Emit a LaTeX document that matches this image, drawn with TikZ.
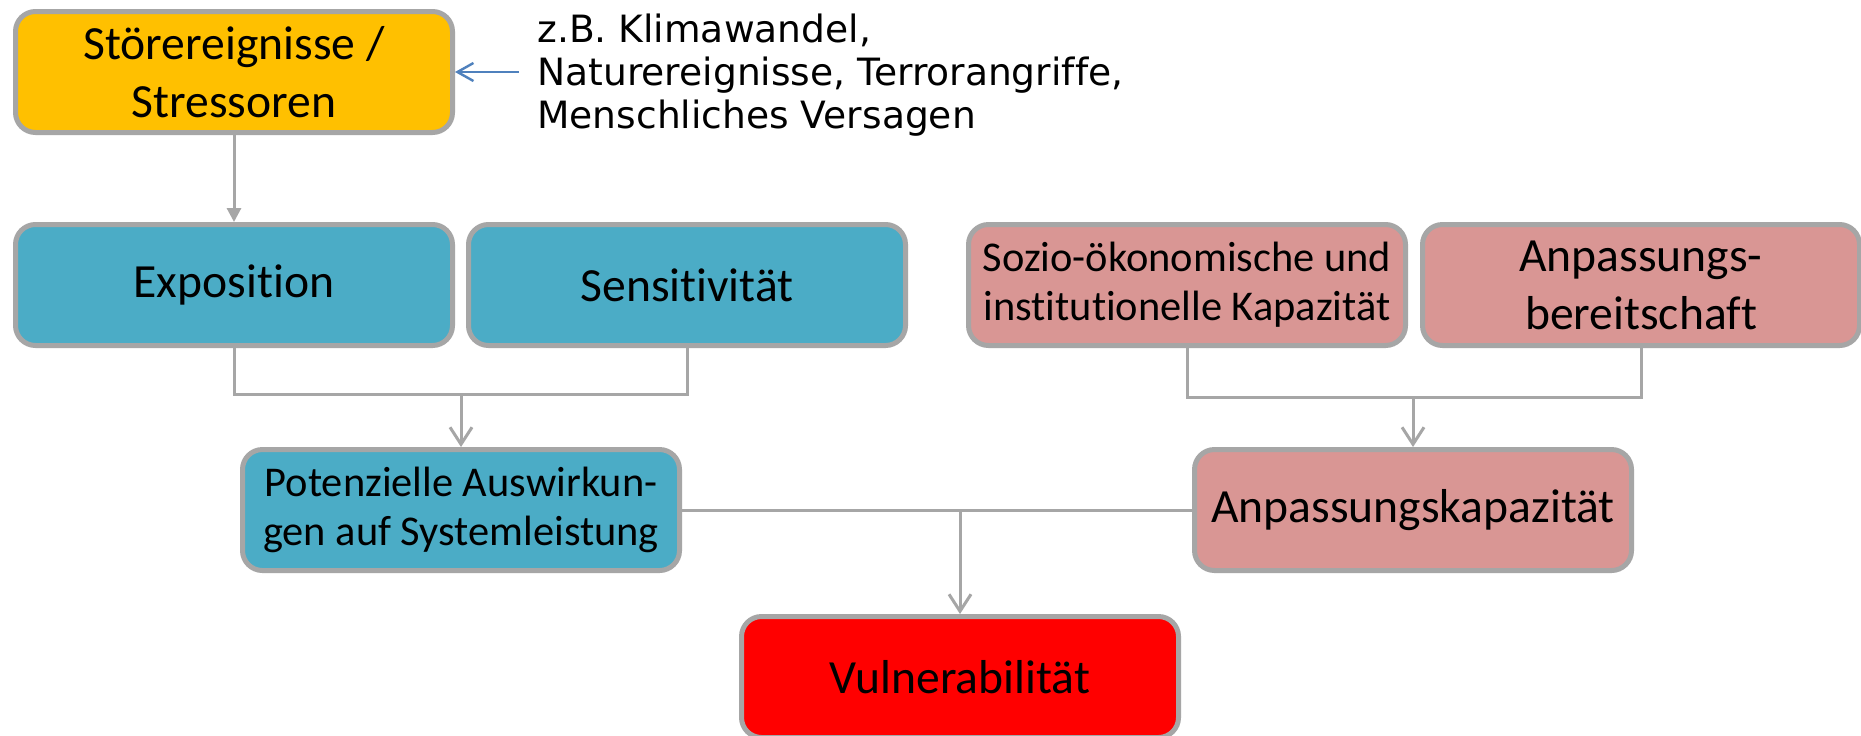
\documentclass[tikz,border=0pt]{standalone}
\usepackage{fontspec}
\setmainfont{Carlito}[Ligatures=CommonOff]
\newfontfamily\sidefont{DejaVu Sans}[Ligatures=CommonOff]
\usetikzlibrary{arrows.meta}

\definecolor{boxgray}{HTML}{A6A6A6}
\definecolor{stoerorange}{HTML}{FFC000}
\definecolor{expoblue}{HTML}{4BACC6}
\definecolor{kappink}{HTML}{D99694}
\definecolor{vulnred}{HTML}{FF0000}
\definecolor{hintblue}{HTML}{4F81BD}

\begin{document}
\begin{tikzpicture}[x=0.5pt, y=-0.5pt,
    box/.style={draw=boxgray, line width=2.5pt, rounded corners=10pt,
      minimum width=218.5pt, minimum height=60.5pt, inner sep=0pt,
      align=center, font=\fontsize{23.8}{29}\selectfont},
    smalltext/.style={font=\fontsize{21.2}{24.5}\selectfont},
    conn/.style={draw=boxgray, line width=1.5pt},
    openarrow/.style={conn, -{Straight Barb[length=8.5pt, width=11pt]}},
    fullarrow/.style={conn, -{Triangle[length=7pt, width=7pt]}},
    hintarrow/.style={draw=hintblue, line width=1.2pt,
      -{Straight Barb[length=8pt, width=9pt]}},
    sidetext/.style={align=left, inner xsep=9pt, inner ysep=0pt,
      font=\sidefont\fontsize{18.8}{21.5}\selectfont}]
  \path[use as bounding box, fill=white] (0,0) rectangle (1861,735);

  \node[box, fill=stoerorange] (stoer) at (234,72) {Störereignisse /\\Stressoren};
  \node[sidetext, anchor=north west] (bsp) at (519,14)
    {z.B. Klimawandel,\\Naturereignisse, Terrorangriffe,\\Menschliches Versagen};
  \draw[hintarrow] (bsp.west |- stoer.east) -- (stoer.east);

  \node[box, fill=expoblue] (expo) at (234,285) {Exposition};
  \node[box, fill=expoblue] (sens) at (687,285) {Sensitivität};
  \node[box, smalltext, fill=kappink] (sozio) at (1187,285)
    {Sozio-ökonomische und\\institutionelle Kapazität};
  \node[box, fill=kappink] (bereit) at (1641,285) {Anpassungs-\\bereitschaft};
  \draw[fullarrow] (stoer.south) -- (expo.north);

  \node[box, smalltext, fill=expoblue] (pot) at (461,510)
    {Potenzielle Auswirkun-\\gen auf Systemleistung};
  \node[box, fill=kappink] (anp) at (1413,510) {Anpassungskapazität};
  \node[box, fill=vulnred] (vuln) at (960,677) {Vulnerabilität};

  \coordinate (lj) at (pot.north |- 0,394);
  \coordinate (rj) at (anp.north |- 0,397);
  \coordinate (mj) at (vuln.north |- pot.east);
  \draw[conn] (expo.south) |- (lj) -| (sens.south);
  \draw[openarrow] (lj) -- (pot.north);
  \draw[conn] (sozio.south) |- (rj) -| (bereit.south);
  \draw[openarrow] (rj) -- (anp.north);
  \draw[conn] (pot.east) -- (anp.west);
  \draw[openarrow] (mj) -- (vuln.north);
\end{tikzpicture}
\end{document}
